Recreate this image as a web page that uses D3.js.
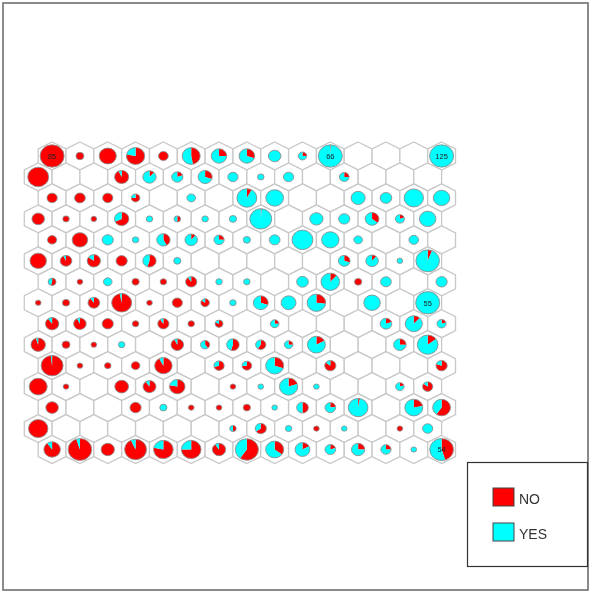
<!DOCTYPE html>
<html>
<head>
<meta charset="utf-8">
<script src="https://cdn.jsdelivr.net/npm/d3@7"></script>
<style>
  html, body { margin: 0; padding: 0; background: #fff; }
  svg { display: block; filter: blur(0.45px); font-family: "Liberation Sans", Arial, sans-serif; }
</style>
</head>
<body>
<div id="viz"></div>
<script>
var width = 590;
var height = 593;

var categories = ["NO", "YES"];
var colors = ["#ff0000", "#00ffff"];

// observations per map cell, one list per row of the hexagonal grid
var counts = [
  [85, 6, 28, 32, 9, 31, 23, 23, 15, 7, 66, 0, 0, 0, 125],
  [42, 0, 0, 19, 17, 12, 19, 10, 4, 10, 0, 9, 0, 0, 0],
  [10, 11, 10, 7, 0, 7, 0, 38, 30, 0, 0, 19, 13, 36, 26],
  [15, 4, 3, 20, 4, 4, 4, 5, 46, 0, 17, 12, 18, 8, 26],
  [8, 23, 12, 4, 17, 15, 10, 5, 11, 42, 29, 7, 0, 9, 0],
  [26, 13, 17, 12, 17, 5, 0, 0, 0, 0, 0, 13, 15, 3, 53],
  [6, 3, 7, 5, 4, 12, 4, 4, 0, 13, 33, 5, 11, 0, 12],
  [3, 5, 13, 38, 3, 10, 7, 4, 21, 21, 33, 0, 26, 0, 55],
  [17, 15, 12, 4, 12, 4, 6, 0, 7, 0, 0, 0, 13, 28, 8],
  [20, 6, 3, 4, 0, 15, 8, 15, 10, 7, 31, 0, 0, 15, 41],
  [46, 3, 4, 7, 29, 0, 10, 9, 31, 0, 12, 0, 0, 0, 12],
  [31, 3, 0, 18, 16, 23, 0, 3, 3, 32, 3, 0, 0, 7, 10],
  [15, 0, 0, 12, 5, 3, 3, 5, 3, 13, 11, 37, 0, 31, 30],
  [36, 0, 0, 0, 0, 0, 0, 4, 12, 4, 3, 3, 0, 3, 10],
  [26, 53, 17, 46, 37, 37, 17, 51, 31, 21, 11, 17, 10, 3, 54]
];

// percent of each cell that answered NO
var noPercent = [
  [100, 100, 100, 78, 100, 47, 25, 30, 0, 25, 1, 0, 0, 0, 0],
  [100, 0, 0, 93, 12, 20, 30, 0, 0, 0, 0, 25, 0, 0, 0],
  [100, 100, 100, 75, 0, 0, 0, 8, 0, 0, 0, 0, 0, 0, 0],
  [100, 100, 100, 68, 0, 50, 0, 0, 1.5, 0, 0, 0, 35, 20, 0],
  [100, 100, 0, 0, 42, 12, 25, 0, 0, 0, 0, 0, 0, 0, 0],
  [100, 93, 85, 100, 55, 0, 0, 0, 0, 0, 0, 30, 12, 0, 6],
  [55, 100, 0, 100, 100, 90, 0, 0, 0, 0, 12, 100, 0, 0, 0],
  [100, 100, 90, 97, 100, 100, 85, 0, 30, 0, 27, 0, 0, 0, 0],
  [90, 92, 100, 100, 90, 100, 80, 0, 25, 0, 0, 0, 20, 12, 20],
  [95, 100, 100, 0, 0, 92, 40, 55, 60, 25, 17, 0, 0, 25, 15],
  [98, 100, 100, 100, 92, 0, 70, 75, 30, 0, 85, 0, 0, 0, 80],
  [100, 100, 0, 100, 90, 78, 0, 100, 0, 20, 0, 0, 0, 20, 85],
  [100, 0, 0, 100, 0, 100, 100, 100, 0, 50, 22, 3, 0, 22, 60],
  [100, 0, 0, 0, 0, 0, 0, 50, 65, 0, 100, 0, 0, 100, 0],
  [90, 95, 100, 93, 78, 75, 90, 60, 35, 17, 20, 25, 25, 0, 45]
];

var labelMin = 54; // only the biggest cells get their count printed
var squash = 0.93; // the original picture is a little wider than tall

var svg = d3.select("#viz").append("svg")
    .attr("width", width)
    .attr("height", height);

// outer frame
svg.append("rect")
    .attr("x", 3).attr("y", 3)
    .attr("width", 585).attr("height", 587)
    .attr("fill", "none")
    .attr("stroke", "#6e6e6e")
    .attr("stroke-width", 1.6);

// half columns, because every other row is shifted
var x = d3.scaleLinear().domain([0, 14.5]).range([38.2, 441.6]);
var y = d3.scaleLinear().domain([0, 14]).range([156, 449.5]);
var r = d3.scaleSqrt().domain([0, 55]).range([0, 12]).clamp(true);

var cells = [];
counts.forEach(function(row, i) {
    row.forEach(function(n, j) {
        cells.push({
            row: i,
            col: j,
            n: n,
            no: noPercent[i][j],
            cx: x(i % 2 === 0 ? j + 0.5 : j),
            cy: y(i)
        });
    });
});

var dx = (x(1) - x(0)) / 2;
var dy = (y(1) - y(0)) * 2 / 3;

function hexPath() {
    var pts = [[0, -dy], [dx, -dy / 2], [dx, dy / 2], [0, dy], [-dx, dy / 2], [-dx, -dy / 2]];
    return "M" + pts.join("L") + "Z";
}

var cell = svg.append("g").selectAll("g")
    .data(cells)
    .enter().append("g")
    .attr("transform", function(d) { return "translate(" + d.cx + "," + d.cy + ")"; });

cell.append("path")
    .attr("d", hexPath())
    .attr("fill", "#fff")
    .attr("stroke", "#c8c8c8")
    .attr("stroke-width", 1.3);

var pie = d3.pie().sort(null);
var full = cell.filter(function(d) { return d.n > 0; })
    .append("g")
    .attr("transform", "scale(1," + squash + ")");

// a full slice on its own, so no seam shows at 12 o'clock
full.selectAll("path.slice")
    .data(function(d) {
        return pie([d.no, 100 - d.no]).map(function(s, i) {
            s.radius = r(d.n);
            s.color = colors[i];
            return s;
        }).filter(function(s) { return s.value > 0; });
    })
    .enter().append("path")
    .attr("class", "slice")
    .attr("d", function(s) { return d3.arc().innerRadius(0).outerRadius(s.radius)(s); })
    .attr("fill", function(s) { return s.color; });

full.append("circle")
    .attr("r", function(d) { return r(d.n); })
    .attr("fill", "none")
    .attr("stroke", "#8c8c8c")
    .attr("stroke-width", 0.9);

full.filter(function(d) { return d.n >= labelMin; })
    .append("text")
    .attr("text-anchor", "middle")
    .attr("y", 3)
    .attr("font-size", 7.5)
    .attr("fill", "#222")
    .text(function(d) { return d.n; });

// legend
var legend = svg.append("g");

legend.append("rect")
    .attr("x", 467.5).attr("y", 462.5)
    .attr("width", 120).attr("height", 104)
    .attr("fill", "#fff")
    .attr("stroke", "#333")
    .attr("stroke-width", 1.2);

var legendY = d3.scalePoint().domain(categories).range([488, 523]);

var item = legend.selectAll("g")
    .data(categories)
    .enter().append("g")
    .attr("transform", function(d) { return "translate(493," + legendY(d) + ")"; });

item.append("rect")
    .attr("width", 21)
    .attr("height", 18)
    .attr("fill", function(d, i) { return colors[i]; })
    .attr("stroke", "#444")
    .attr("stroke-width", 1);

item.append("text")
    .attr("x", 26)
    .attr("y", 15.5)
    .attr("font-size", 14)
    .attr("fill", "#333")
    .text(function(d) { return d; });
</script>
</body>
</html>
